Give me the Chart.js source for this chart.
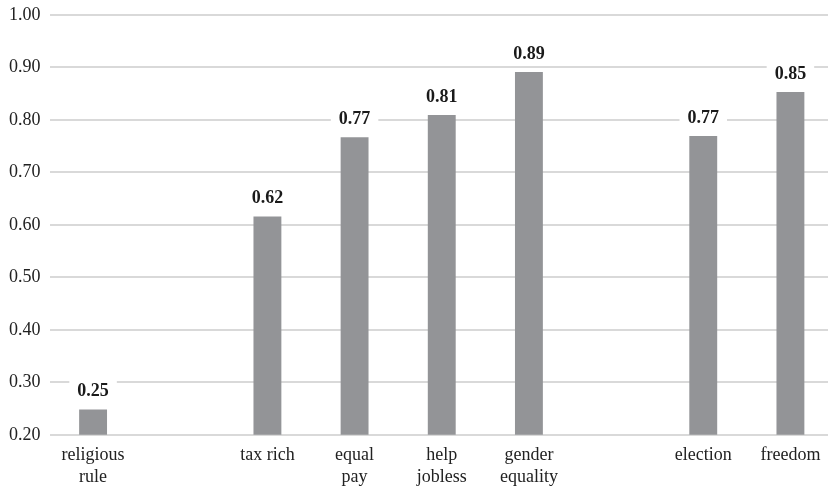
<!DOCTYPE html>
<html>
<head>
<meta charset="utf-8">
<script src="https://cdn.jsdelivr.net/npm/chart.js@4/dist/chart.umd.min.js"></script>
<style>
  html, body { margin: 0; padding: 0; background: #fff; overflow: hidden; }
  #wrap { position: relative; top: -5px; width: 834px; height: 505px; }
</style>
</head>
<body>
<div id="wrap"><canvas id="c"></canvas></div>
<script>
// Categories (empty slots keep the gaps between topic groups)
const categories = [
  ['religious', 'rule'], '', ['tax rich'], ['equal', 'pay'], ['help', 'jobless'],
  ['gender', 'equality'], '', ['election'], ['freedom']
];
// Share of respondents for each item
const shares = [0.248, null, 0.616, 0.767, 0.809, 0.891, null, 0.769, 0.853];
// Value axis range and step
const yMin = 0.2, yMax = 1.0, yStep = 0.1;

const serif = '"Liberation Serif", "Times New Roman", serif';

// Bold value labels sitting on a white patch above each bar
const valueLabels = {
  id: 'valueLabels',
  afterDatasetsDraw(chart) {
    const ctx = chart.ctx;
    const meta = chart.getDatasetMeta(0);
    ctx.save();
    ctx.font = 'bold 18px ' + serif;
    ctx.textAlign = 'center';
    ctx.textBaseline = 'middle';
    meta.data.forEach((bar, i) => {
      const v = shares[i];
      if (v == null) return;
      const txt = v.toFixed(2);
      const cy = bar.y - 19;
      const w = ctx.measureText(txt).width + 16;
      ctx.fillStyle = '#ffffff';
      ctx.fillRect(bar.x - w / 2, cy - 11, w, 22);
      ctx.fillStyle = '#1a1a1a';
      ctx.fillText(txt, bar.x, cy + 1);
    });
    ctx.restore();
  }
};

new Chart(document.getElementById('c'), {
  type: 'bar',
  data: {
    labels: categories,
    datasets: [{
      data: shares,
      backgroundColor: '#939497',
      barPercentage: 1,
      categoryPercentage: 0.32
    }]
  },
  options: {
    responsive: true,
    maintainAspectRatio: false,
    animation: false,
    layout: { padding: { top: 3, left: 0, right: 0, bottom: 2 } },
    plugins: { legend: { display: false }, tooltip: { enabled: false } },
    scales: {
      x: {
        grid: { display: false, drawTicks: false },
        border: { display: false },
        ticks: {
          color: '#222',
          font: { family: serif, size: 18 },
          padding: 10,
          maxRotation: 0,
          autoSkip: false
        }
      },
      y: {
        min: yMin,
        max: yMax,
        grid: { color: '#d9d9d9', lineWidth: 2, drawTicks: false },
        border: { display: false },
        ticks: {
          stepSize: yStep,
          color: '#222',
          font: { family: serif, size: 18 },
          padding: 9,
          callback: v => v.toFixed(2)
        }
      }
    }
  },
  plugins: [valueLabels]
});
</script>
</body>
</html>
